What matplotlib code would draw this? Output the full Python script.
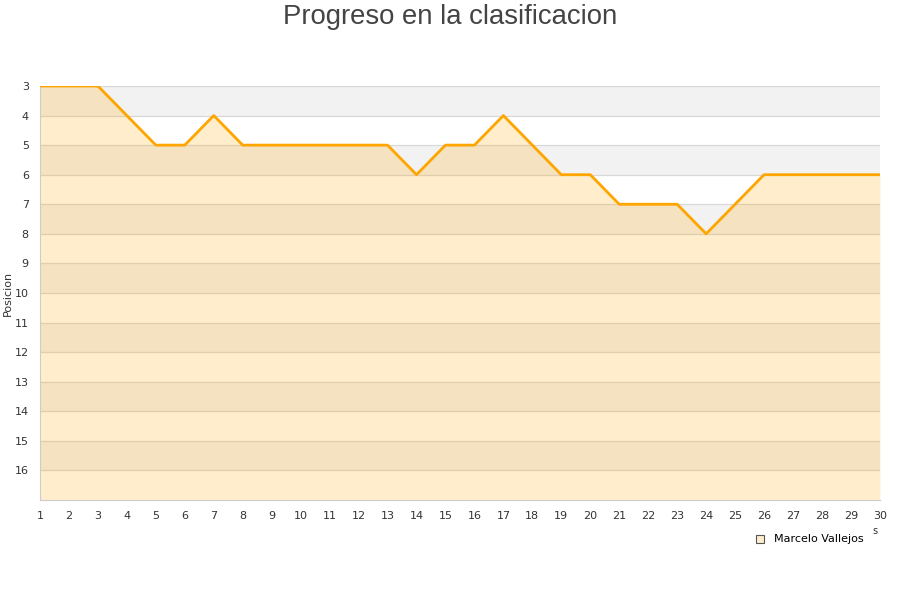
import matplotlib
matplotlib.use("Agg")
import matplotlib.pyplot as plt
from matplotlib.patches import Rectangle
from matplotlib.lines import Line2D

jornadas = list(range(1, 31))
posicion = [3, 3, 3, 4, 5, 5, 4, 5, 5, 5, 5, 5, 5, 6, 5, 5, 4, 5, 6, 6,
            7, 7, 7, 8, 7, 6, 6, 6, 6, 6]
y_ticks = list(range(3, 17))
jugador = "Marcelo Vallejos"

fig = plt.figure(figsize=(9, 6), dpi=100)
ax = fig.add_axes([0.0444, 0.1667, 0.9333, 0.69])

# bandas alternas
for i, y in enumerate(range(3, 17)):
    col = "#f2f2f2" if i % 2 == 0 else "#ffffff"
    ax.add_patch(Rectangle((1, y), 29, 1, facecolor=col, edgecolor="none", zorder=0))
for y in range(3, 17):
    ax.axhline(y, color="#d8d8d8", linewidth=0.9, zorder=1)

ax.fill_between(jornadas, posicion, 17, color="#ffa500", alpha=0.2, linewidth=0, zorder=2)
ax.plot(jornadas, posicion, color="#ffa500", linewidth=2.0, zorder=3)

ax.set_xlim(1, 30)
ax.set_ylim(17, 3)
ax.set_xticks(jornadas)
ax.set_yticks(y_ticks)
ax.tick_params(length=0, labelsize=8, colors="#333333", pad=8)
ax.tick_params(axis="y", pad=8)
for side in ["top", "right"]:
    ax.spines[side].set_visible(False)
for side in ["left", "bottom"]:
    ax.spines[side].set_color("#cccccc")
ax.set_ylabel("Posicion", fontsize=8, color="#333333")
ax.yaxis.set_label_coords(-0.0325, 0.5)

fig.text(0.5, 0.993, "Progreso en la clasificacion", ha="center", va="top",
         fontsize=19.8, color="#444444", family="Liberation Sans")
fig.text(0.972, 0.115, "s", ha="center", va="center", fontsize=7, color="#333333")

handle = Line2D([], [], marker="s", linestyle="none", markersize=5.5,
                markerfacecolor="#ffedcc", markeredgecolor="#555555", markeredgewidth=0.8)
fig.legend([handle], [jugador], loc="center right", bbox_to_anchor=(0.971, 0.101),
           frameon=False, fontsize=8, handletextpad=0.3)

fig.savefig("out.png", dpi=100)
